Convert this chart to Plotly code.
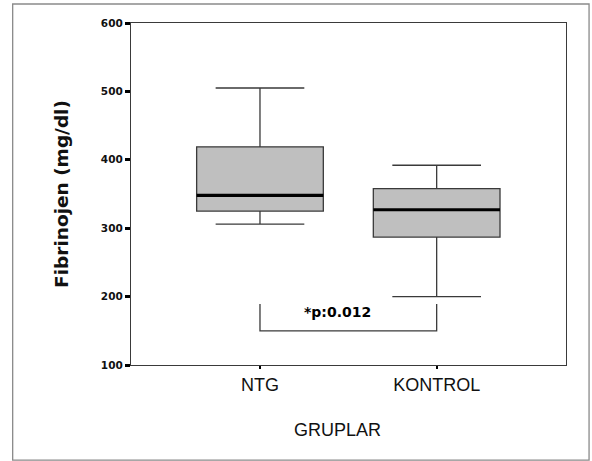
import plotly.graph_objects as go

# ---- data ----
groups = ["NTG", "KONTROL"]
lower_whisker = [306, 200]
q1_vals = [325, 287]
median_vals = [348, 327]
q3_vals = [419, 358]
upper_whisker = [505, 392]

y_ticks = [100, 200, 300, 400, 500, 600]
p_text = "*p:0.012"
bracket_y = [189, 150]   # top of bracket legs, bracket base

# ---- style ----
box_w = 0.717
line_col = "#3a3a3a"
fill_col = "#bfbfbf"

xpos = list(range(len(groups)))

fig = go.Figure()
fig.add_trace(go.Box(
    x=xpos, q1=q1_vals, median=median_vals, q3=q3_vals,
    lowerfence=lower_whisker, upperfence=upper_whisker,
    width=box_w, whiskerwidth=0.7,
    fillcolor=fill_col, line=dict(color=line_col, width=1.3),
    boxpoints=False, hoverinfo="skip", showlegend=False,
))

# thick median lines
for i, m in zip(xpos, median_vals):
    fig.add_shape(type="line", xref="x", yref="y",
                  x0=i - box_w / 2, x1=i + box_w / 2, y0=m, y1=m,
                  line=dict(color="black", width=3.2), layer="above")

# significance bracket
fig.add_trace(go.Scatter(
    x=[xpos[0], xpos[0], xpos[1], xpos[1]],
    y=[bracket_y[0], bracket_y[1], bracket_y[1], bracket_y[0]],
    mode="lines", line=dict(color=line_col, width=1.3),
    hoverinfo="skip", showlegend=False,
))
fig.add_annotation(x=0.44, y=178, xref="x", yref="y", text="<b>" + p_text + "</b>",
                   showarrow=False, font=dict(family="DejaVu Sans", size=14, color="black"))

# outer frame
fig.add_shape(type="rect", xref="paper", yref="paper",
              x0=-0.272, x1=1.053, y0=-0.278, y1=1.0556,
              line=dict(color="#8a8a8a", width=1.3), fillcolor="rgba(0,0,0,0)")

# x title
fig.add_annotation(x=0.44, y=-0.19, xref="x", yref="paper", text="GRUPLAR",
                   showarrow=False, yanchor="middle",
                   font=dict(family="Liberation Sans", size=18, color="#111"))

fig.update_layout(
    width=592, height=461, autosize=False,
    margin=dict(l=131, r=26, t=23, b=96),
    paper_bgcolor="white", plot_bgcolor="white",
    showlegend=False,
    xaxis=dict(
        range=[-0.73, 1.732], tickvals=xpos, ticktext=groups,
        showgrid=False, zeroline=False,
        showline=True, mirror=True, linecolor=line_col, linewidth=1.3,
        ticks="outside", ticklen=3, tickwidth=2, tickcolor="black",
        tickfont=dict(family="Liberation Sans", size=18, color="#111"),
    ),
    yaxis=dict(
        range=[100, 600], tickvals=y_ticks, ticktext=["<b>%d</b>" % v for v in y_ticks],
        showgrid=False, zeroline=False,
        showline=True, mirror=True, linecolor=line_col, linewidth=1.3,
        ticks="outside", ticklen=5, tickwidth=2.5, tickcolor="black",
        tickfont=dict(family="DejaVu Sans", size=10.5, color="#111"),
        title=dict(text="<b>Fibrinojen (mg/dl)</b>", standoff=27,
                   font=dict(family="DejaVu Sans", size=18.5, color="#111")),
    ),
)

fig.write_html("out.html", config={"displayModeBar": False},
               post_script="document.body.style.margin='0';document.body.style.overflow='hidden';")
